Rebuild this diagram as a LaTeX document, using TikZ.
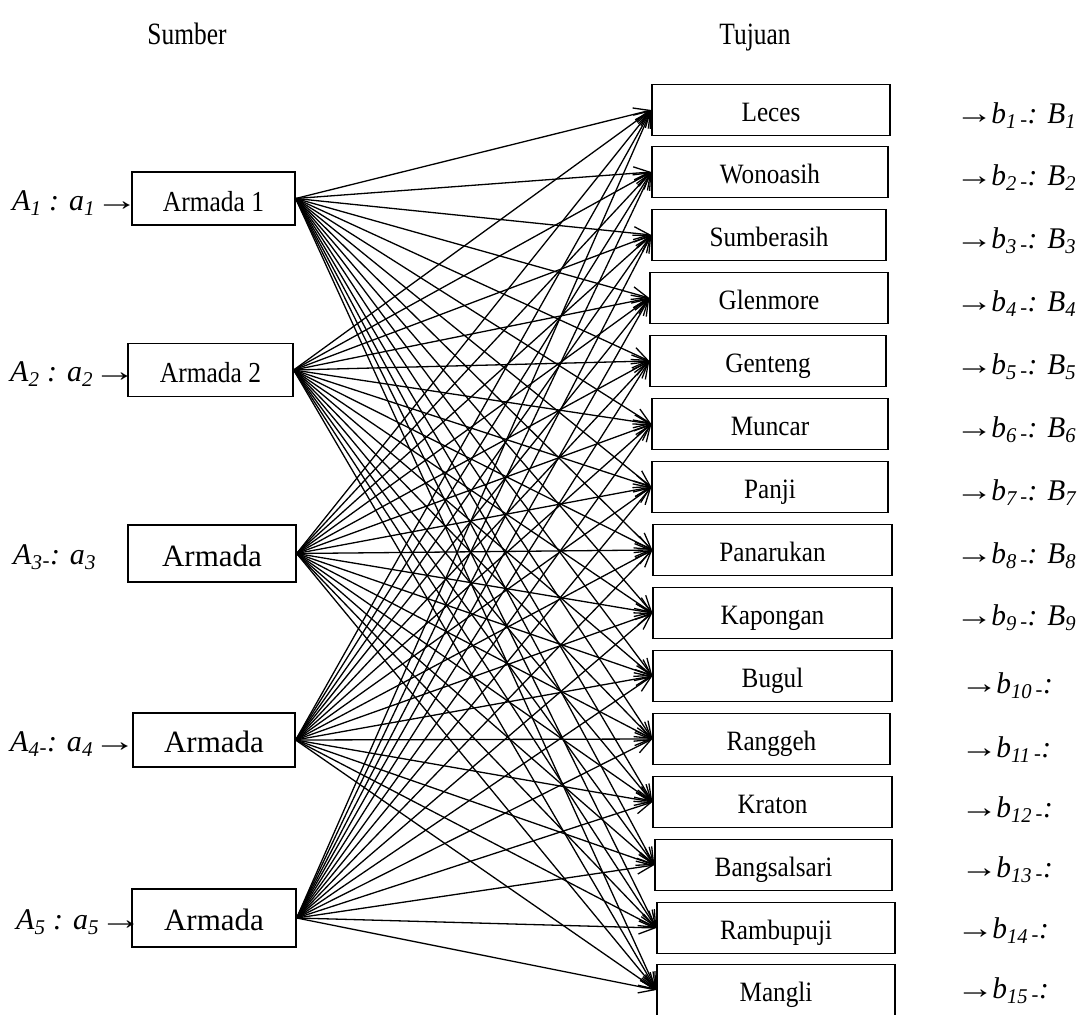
\documentclass[tikz,border=0pt]{standalone}
\usepackage{fontspec}
\setmainfont{Liberation Serif}
\usetikzlibrary{arrows.meta}
\newcommand\cnd[2]{\scalebox{#1}[1]{#2}}
\newcommand\arr{\cnd{1.45}{→}}
\newcommand\rarr{\cnd{1.3}{→}\kern-2pt}
\newcommand\rlab[1]{\cnd{0.98}{\rarr\textit{b\textsubscript{#1}\textsubscript{\,-}: B\textsubscript{#1}}}}
\newcommand\rlabb[1]{\cnd{0.98}{\rarr\textit{b\textsubscript{#1}\textsubscript{\,-}:}}}
\begin{document}
\begin{tikzpicture}[x=1pt,y=-1pt,
  sbox/.style={draw, line width=1.3pt, inner sep=0pt, text height=25pt, text depth=0pt},
  tbox/.style={draw, line width=1.3pt, minimum height=51pt, inner sep=0pt, text height=22pt, text depth=0pt, font=\fontsize{28}{30}\selectfont},
  lab/.style={anchor=base west, inner sep=0pt, font=\fontsize{30}{32}\selectfont},
  conn/.style={line width=1.3pt, -{Straight Barb[length=16pt,width=13pt,line width=1.3pt]}},
  head/.style={anchor=base, inner sep=0pt, font=\fontsize{31}{34}\selectfont}]
\path[use as bounding box, fill=white] (0,0) rectangle (1085,1015);

\node[head] (hs) at (187,44) {\cnd{0.82}{Sumber}};
\node[head] (ht) at (755,44) {\cnd{0.82}{Tujuan}};

% sources
\node[sbox, minimum width=163pt, minimum height=53pt, font=\fontsize{29}{30}\selectfont] (s1) at (213.5,198.5) {\cnd{0.88}{Armada 1}};
\node[sbox, minimum width=165pt, minimum height=53pt, font=\fontsize{29}{30}\selectfont] (s2) at (210.5,370) {\cnd{0.88}{Armada 2}};
\node[sbox, minimum width=168pt, minimum height=57pt, font=\fontsize{31}{32}\selectfont] (s3) at (212,553.5) {Armada};
\node[sbox, minimum width=162pt, minimum height=54pt, font=\fontsize{31}{32}\selectfont] (s4) at (214,740) {Armada};
\node[sbox, minimum width=164pt, minimum height=58pt, font=\fontsize{31}{32}\selectfont] (s5) at (214,918) {Armada};

% left labels
\node[lab] (l1) at (12,210) {\textit{A\textsubscript{1} : a\textsubscript{1}}\arr};
\node[lab] (l2) at (10,381) {\textit{A\textsubscript{2} : a\textsubscript{2}}\arr};
\node[lab] (l3) at (13,564) {\textit{A\textsubscript{3}\textsubscript{-}: a\textsubscript{3}}};
\node[lab] (l4) at (10,751) {\textit{A\textsubscript{4}\textsubscript{-}: a\textsubscript{4}}\arr};
\node[lab] (l5) at (16,929) {\textit{A\textsubscript{5} : a\textsubscript{5}}\arr};

% targets
\node[tbox, minimum width=238pt] (t1) at (771,110) {\cnd{0.9}{Leces}};
\node[tbox, minimum width=236pt] (t2) at (770,172) {\cnd{0.9}{Wonoasih}};
\node[tbox, minimum width=234pt] (t3) at (769,235) {\cnd{0.9}{Sumberasih}};
\node[tbox, minimum width=238pt] (t4) at (769,298) {\cnd{0.9}{Glenmore}};
\node[tbox, minimum width=236pt] (t5) at (768,361) {\cnd{0.9}{Genteng}};
\node[tbox, minimum width=236pt] (t6) at (770,424) {\cnd{0.9}{Muncar}};
\node[tbox, minimum width=236pt] (t7) at (770,487) {\cnd{0.9}{Panji}};
\node[tbox, minimum width=239pt] (t8) at (772.5,550) {\cnd{0.9}{Panarukan}};
\node[tbox, minimum width=239pt] (t9) at (772.5,613) {\cnd{0.9}{Kapongan}};
\node[tbox, minimum width=239pt] (t10) at (772.5,676) {\cnd{0.9}{Bugul}};
\node[tbox, minimum width=237pt] (t11) at (771.5,739) {\cnd{0.9}{Ranggeh}};
\node[tbox, minimum width=239pt] (t12) at (772.5,802) {\cnd{0.9}{Kraton}};
\node[tbox, minimum width=237pt] (t13) at (773.5,865) {\cnd{0.9}{Bangsalsari}};
\node[tbox, minimum width=238pt] (t14) at (776,928) {\cnd{0.9}{Rambupuji}};
\node[tbox, minimum width=238pt] (t15) at (776,990) {\cnd{0.9}{Mangli}};

% right labels
\node[lab] (r1) at (955,123) {\rlab{1}};
\node[lab] (r2) at (955,185) {\rlab{2}};
\node[lab] (r3) at (955,248) {\rlab{3}};
\node[lab] (r4) at (955,311) {\rlab{4}};
\node[lab] (r5) at (955,374) {\rlab{5}};
\node[lab] (r6) at (955,437) {\rlab{6}};
\node[lab] (r7) at (955,500) {\rlab{7}};
\node[lab] (r8) at (955,563) {\rlab{8}};
\node[lab] (r9) at (955,625) {\rlab{9}};
\node[lab] (r10) at (960,693) {\rlabb{10}};
\node[lab] (r11) at (960,757) {\rlabb{11}};
\node[lab] (r12) at (960,817) {\rlabb{12}};
\node[lab] (r13) at (960,877) {\rlabb{13}};
\node[lab] (r14) at (956,938) {\rlabb{14}};
\node[lab] (r15) at (956,998) {\rlabb{15}};

% connectors
\foreach \i in {1,...,5}
  \foreach \j in {1,...,15}
    \draw[conn] (s\i.east) -- (t\j.west);
\end{tikzpicture}
\end{document}
